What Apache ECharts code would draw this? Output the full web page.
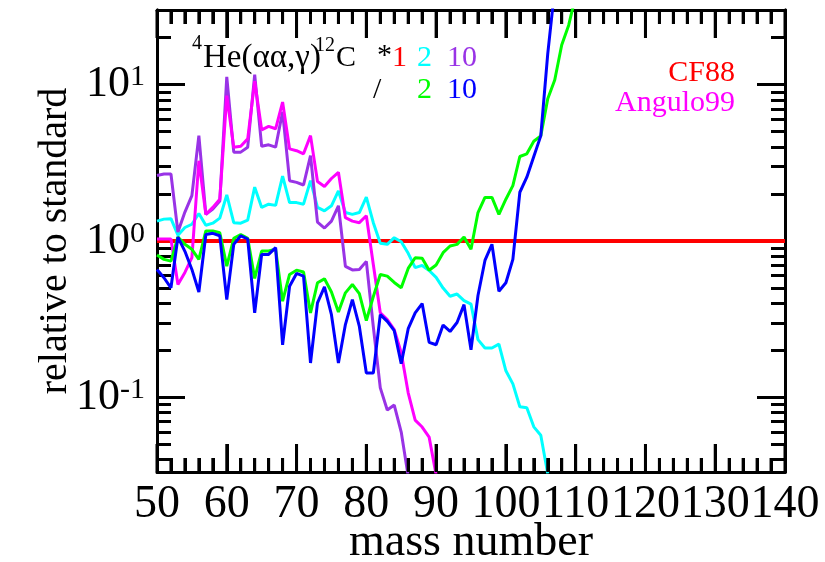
<!DOCTYPE html>
<html><head><meta charset="utf-8">
<script src="https://cdn.jsdelivr.net/npm/echarts@6/dist/echarts.min.js"></script>
<style>html,body{margin:0;padding:0;background:#fff}#c{width:825px;height:562px}</style>
</head><body><div id="c"></div>
<script>
// ---- data ----
const massStart = 50;
const xMajorTicks = [50, 60, 70, 80, 90, 100, 110, 120, 130, 140];
const xMinorTicks = [52,54,56,58,62,64,66,68,72,74,76,78,82,84,86,88,92,94,96,98,102,104,106,108,112,114,116,118,122,124,126,128,132,134,136,138];
const yMinorTicks = [0.04,0.05,0.06,0.07,0.08,0.09,0.2,0.3,0.4,0.5,0.6,0.7,0.8,0.9,2,3,4,5,6,7,8,9,20];
const cf88Mass = [50, 140];
const cf88 = [1, 1];
const times2 = [1.34,1.38,1.39,1.09,1.22,1.28,1.50,1.26,1.30,1.40,
  1.97,1.31,1.30,1.36,2.21,1.64,1.72,1.69,2.60,1.76,
  1.76,1.72,2.43,1.64,1.56,1.68,2.09,1.52,1.48,1.52,
  1.91,1.31,0.966,0.952,1.05,0.99,0.834,0.675,0.698,0.648,
  0.585,0.50,0.443,0.458,0.416,0.395,0.234,0.207,0.207,0.219,
  0.148,0.122,0.0871,0.0859,0.0648,0.0573,0.0325];
const times10 = [2.62,2.68,2.68,1.14,1.53,1.95,4.72,1.48,1.60,1.80,
  11.2,3.70,3.70,3.98,11.6,4.03,4.12,3.98,6.70,2.43,
  2.37,2.28,3.51,1.32,1.21,1.34,1.68,0.688,0.653,0.658,
  0.741,0.283,0.115,0.083,0.0893,0.060,0.0313];
const div2 = [0.815,0.763,0.744,1.06,0.952,0.885,0.763,1.16,1.16,1.13,
  0.691,1.04,1.10,1.04,0.576,0.863,0.863,0.885,0.412,0.611,
  0.651,0.634,0.347,0.541,0.573,0.472,0.351,0.466,0.527,0.461,
  0.31,0.441,0.611,0.596,0.543,0.502,0.668,0.782,0.777,0.65,
  0.703,0.842,0.929,0.952,1.06,0.885,1.52,1.90,1.90,1.48,
  1.85,2.26,3.47,3.61,4.34,4.70,8.13,10.7,17.9,24,37];
const div10 = [0.658,0.582,0.502,1.06,0.859,0.658,0.472,1.10,1.12,1.08,
  0.422,0.952,1.08,1.03,0.347,0.821,0.821,0.907,0.217,0.514,
  0.62,0.596,0.166,0.402,0.509,0.338,0.166,0.292,0.422,0.284,
  0.143,0.143,0.338,0.306,0.267,0.164,0.275,0.347,0.398,0.225,
  0.217,0.29,0.264,0.301,0.392,0.2015,0.448,0.751,0.952,0.477,
  0.541,0.763,2.05,2.56,3.47,4.70,15.8,41];
const angulo99 = [1.03,1.03,1.03,0.527,0.63,0.782,3.26,1.48,1.64,1.85,
  8.5,3.98,4.04,4.50,10.5,5.14,5.41,5.22,7.74,3.88,
  3.78,3.61,4.72,2.40,2.23,2.51,2.75,1.41,1.34,1.31,
  1.45,0.708,0.348,0.314,0.271,0.193,0.107,0.0716,0.0646,0.0557,
  0.032];

// ---- build ----
const FONT = '"Liberation Serif","Times New Roman",serif';
const black = '#000';
const Y_MIN = 1 / 30, Y_MAX = 30;
const pairs = vals => vals.map((v, i) => [massStart + i, v]);
const line = (name, data, color, w, z) => ({
  name, type: 'line', data, showSymbol: false, symbol: 'none', clip: true,
  xAxisIndex: 0, yAxisIndex: 0, z: z,
  lineStyle: { color, width: w }, itemStyle: { color }
});
function xAx(pos, labels) {
  const ax = {
    type: 'value', position: pos, min: 50, max: 140, interval: 10,
    axisLine: { show: true, onZero: false, lineStyle: { color: black, width: 3 } },
    axisTick: { show: true, inside: true, length: 28, lineStyle: { color: black, width: 3 } },
    minorTick: { show: true, splitNumber: 5, length: 14, lineStyle: { color: black, width: 3 } },
    splitLine: { show: false }
  };
  if (labels) {
    ax.axisLabel = { margin: 10, fontSize: 46, fontFamily: FONT, color: black };
    ax.name = 'mass number';
    ax.nameLocation = 'middle';
    ax.nameGap = 48;
    ax.nameMoveOverlap = false;
    ax.nameTextStyle = { fontSize: 46, fontFamily: FONT, color: black };
  } else {
    ax.axisLabel = { show: false };
  }
  return ax;
}
function yAx(pos, minor, labels) {
  const ax = {
    type: 'log', position: pos, min: Y_MIN, max: Y_MAX,
    axisLine: { show: true, onZero: false, lineStyle: { color: black, width: 3 } },
    axisTick: { show: true, inside: true, length: minor ? 14 : 28, lineStyle: { color: black, width: 3 } },
    splitLine: { show: false }
  };
  if (minor) ax.axisTick.customValues = yMinorTicks;
  if (labels) {
    ax.axisLabel = {
      margin: 12, showMinLabel: false, showMaxLabel: false,
      formatter: v => '{b|10}{s|' + Math.round(Math.log10(v)) + '}',
      rich: {
        b: { fontSize: 44, fontFamily: FONT, color: black, lineHeight: 44 },
        s: { fontSize: 30, fontFamily: FONT, color: black, lineHeight: 30, verticalAlign: 'top' }
      }
    };
    ax.name = 'relative to standard';
    ax.nameLocation = 'middle';
    ax.nameGap = 82;
    ax.nameMoveOverlap = false;
    ax.nameTextStyle = { fontSize: 40, fontFamily: FONT, color: black };
  } else {
    ax.axisLabel = { show: false };
  }
  return ax;
}
function txt(text, x, y, size, color, align) {
  return { type: 'text', x, y, z: 100,
    style: { text, fill: color, font: size + 'px ' + FONT,
      align: align || 'left', verticalAlign: 'middle',
      textAlign: align || 'left', textVerticalAlign: 'middle' } };
}
const labelsGraphic = [
  txt('4', 192, 44, 20, black),
  txt('He(\u03b1\u03b1,\u03b3)', 203, 58, 33, black),
  txt('12', 315, 46, 20, black),
  txt('C', 336, 58, 30, black),
  txt('*', 377, 56, 30, black),
  txt('1', 392, 58, 30, '#ff0000'),
  txt('2', 417, 58, 30, '#00ffff'),
  txt('10', 447, 58, 30, '#9933e6'),
  txt('/', 373, 90, 30, black),
  txt('2', 417, 90, 30, '#00ff00'),
  txt('10', 447, 90, 30, '#0000ff'),
  txt('CF88', 735, 73, 30, '#ff0000', 'right'),
  txt('Angulo99', 735, 103, 30, '#ff00ff', 'right')
];

const option = {
  animation: false,
  grid: { left: 157, right: 40, top: 10, bottom: 90, outerBoundsMode: 'none' },
  xAxis: [xAx('bottom', true), xAx('top', false)],
  yAxis: [yAx('left', false, true), yAx('left', true, false), yAx('right', false, false), yAx('right', true, false)],
  series: [
    line('CF88', cf88Mass.map((m, i) => [m, cf88[i]]), '#ff0000', 4, 2),
    line('*2', pairs(times2), '#00ffff', 3, 3),
    line('*10', pairs(times10), '#9933e6', 3, 4),
    line('Angulo99', pairs(angulo99), '#ff00ff', 3, 5),
    line('/2', pairs(div2), '#00ff00', 3, 6),
    line('/10', pairs(div10), '#0000ff', 3, 7)
  ],
  graphic: { elements: labelsGraphic }
};
const chart = echarts.init(document.getElementById('c'));
chart.setOption(option);

// x-axis tick marks on bottom and top frame, positioned through the chart's own scales
const finder = { xAxisIndex: 0, yAxisIndex: 0 };
const tickLines = [];
const addTicks = (ticks, len) => ticks.forEach(m => {
  const b = chart.convertToPixel(finder, [m, Y_MIN]);
  const t = chart.convertToPixel(finder, [m, Y_MAX]);
  if (!b || !t) return;
  const st = { stroke: black, lineWidth: 3 };
  tickLines.push({ type: 'line', z: 90, silent: true, shape: { x1: b[0], y1: b[1], x2: b[0], y2: b[1] - len }, style: st });
  tickLines.push({ type: 'line', z: 90, silent: true, shape: { x1: t[0], y1: t[1], x2: t[0], y2: t[1] + len }, style: st });
});
addTicks(xMajorTicks, 28);
addTicks(xMinorTicks, 14);
chart.setOption({ graphic: { elements: labelsGraphic.concat(tickLines) } });
</script>
</body></html>
